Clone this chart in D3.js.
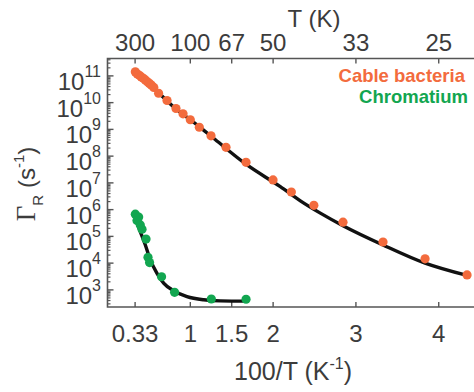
<!DOCTYPE html>
<html>
<head>
<meta charset="utf-8">
<script src="https://cdn.jsdelivr.net/npm/d3@7"></script>
<style>
  body { margin: 0; background: #fff; }
  text { font-family: "Liberation Sans", Arial, sans-serif; fill: #3c3c3c; }
</style>
</head>
<body>
<div id="chart"></div>
<script>
const cableColor = "#f36b3d";
const chromColor = "#12a650";

// x values are 100/T (K^-1), y values are log10 of the rate (s^-1)
const cableInvT = [0.336, 0.360, 0.384, 0.408, 0.432, 0.457, 0.481, 0.505, 0.529, 0.559,
    0.617, 0.719, 0.827, 0.912, 1.000, 1.109, 1.250, 1.431, 1.673, 1.999,
    2.220, 2.492, 2.844, 3.327, 3.835, 4.342];
const cableLogRate = [11.15, 11.07, 11.02, 10.96, 10.91, 10.85, 10.78, 10.72, 10.66, 10.57,
    10.35, 10.08, 9.78, 9.58, 9.36, 9.08, 8.76, 8.33, 7.77, 7.11,
    6.66, 6.16, 5.53, 4.79, 4.16, 3.56];

const chromInvT = [0.336, 0.376, 0.356, 0.396, 0.417, 0.465, 0.489, 0.508, 0.653, 0.810, 1.254, 1.673];
const chromLogRate = [5.83, 5.72, 5.59, 5.43, 5.27, 4.90, 4.22, 4.02, 3.49, 2.91, 2.66, 2.65];

// fitted curves
const cableFitInvT = [0.34, 0.60, 0.80, 1.081, 1.30, 1.685, 2.087, 2.329, 2.570, 2.844, 3.327, 3.835, 4.342];
const cableFitLogRate = [11.12, 10.42, 9.84, 9.17, 8.62, 7.67, 6.86, 6.33, 5.87, 5.40, 4.68, 4.00, 3.54];

const chromFitInvT = [0.348, 0.396, 0.457, 0.517, 0.598, 0.678, 0.798, 0.960, 1.161, 1.362, 1.680];
const chromFitLogRate = [5.59, 5.18, 4.68, 4.12, 3.62, 3.25, 2.97, 2.75, 2.63, 2.59, 2.58];

const xTicks = [1 / 3, 1, 1.5, 2, 3, 4];
const xTickLabels = ["0.33", "1", "1.5", "2", "3", "4"];
const tTickLabels = ["300", "100", "67", "50", "33", "25"];
const yExponents = [3, 4, 5, 6, 7, 8, 9, 10, 11];

const width = 474, height = 392;
const margins = { left: 107.5, right: -2, top: 58.5, bottom: 85 };

const svg = d3.select("#chart").append("svg")
    .attr("width", width)
    .attr("height", height);

const x = d3.scaleLinear().domain([0, 4.45]).range([margins.left, width - margins.right]);
const y = d3.scaleLog().domain([Math.pow(10, 2.36), Math.pow(10, 11.65)])
    .range([height - margins.bottom, margins.top]);

const axisColor = "#555";
const x0 = x.range()[0], x1 = x.range()[1];
const yB = y.range()[0], yT = y.range()[1];

// frame
svg.append("path")
    .attr("d", `M${x1},${yT}H${x0}V${yB}H${x1}`)
    .attr("fill", "none").attr("stroke", axisColor).attr("stroke-width", 1.6);

// x ticks (bottom and top, pointing inwards)
svg.selectAll(".xtickB").data(xTicks).enter().append("line")
    .attr("x1", d => x(d)).attr("x2", d => x(d))
    .attr("y1", yB).attr("y2", yB - 5)
    .attr("stroke", axisColor).attr("stroke-width", 1.4);
svg.selectAll(".xtickT").data(xTicks).enter().append("line")
    .attr("x1", d => x(d)).attr("x2", d => x(d))
    .attr("y1", yT).attr("y2", yT + 5)
    .attr("stroke", axisColor).attr("stroke-width", 1.4);

svg.selectAll(".xlab").data(xTicks).enter().append("text")
    .attr("x", d => x(d)).attr("y", yB + 35)
    .attr("text-anchor", "middle").attr("font-size", "24px")
    .text((d, i) => xTickLabels[i]);
svg.selectAll(".tlab").data(xTicks).enter().append("text")
    .attr("x", d => x(d)).attr("y", yT - 8)
    .attr("text-anchor", "middle").attr("font-size", "24px")
    .text((d, i) => tTickLabels[i]);

// y ticks, major and minor (log)
const minor = [];
yExponents.concat([2]).forEach(e => {
    for (let m = 2; m <= 9; m++) {
        const v = m * Math.pow(10, e);
        if (v > y.domain()[0] && v < y.domain()[1]) minor.push(v);
    }
});
svg.selectAll(".ymin").data(minor).enter().append("line")
    .attr("x1", x0).attr("x2", x0 + 3)
    .attr("y1", d => y(d)).attr("y2", d => y(d))
    .attr("stroke", axisColor).attr("stroke-width", 1.2);
svg.selectAll(".ymaj").data(yExponents).enter().append("line")
    .attr("x1", x0).attr("x2", x0 + 6)
    .attr("y1", d => y(Math.pow(10, d))).attr("y2", d => y(Math.pow(10, d)))
    .attr("stroke", axisColor).attr("stroke-width", 1.4);

const ylab = svg.selectAll(".ylab").data(yExponents).enter().append("text")
    .attr("x", 101).attr("y", d => y(Math.pow(10, d)) + 14)
    .attr("text-anchor", "end").attr("font-size", "24px");
ylab.append("tspan").text("10");
ylab.append("tspan").attr("dy", -13).attr("font-size", "16px").text(d => d);

// axis titles
svg.append("text").attr("x", 314).attr("y", 27)
    .attr("text-anchor", "middle").attr("font-size", "24px").text("T (K)");

const xt = svg.append("text").attr("x", 293).attr("y", 380)
    .attr("text-anchor", "middle").attr("font-size", "25px");
xt.append("tspan").text("100/T (K");
xt.append("tspan").attr("dy", -11).attr("font-size", "16px").text("-1");
xt.append("tspan").attr("dy", 11).text(")");

const yt = svg.append("text")
    .attr("transform", "translate(35,184) rotate(-90)")
    .attr("text-anchor", "middle").attr("font-size", "24px");
yt.append("tspan").attr("font-family", "'Liberation Serif', 'Times New Roman', serif").attr("font-size", "27px").text("Γ");
yt.append("tspan").attr("dy", 8).attr("font-size", "15px").text("R");
yt.append("tspan").attr("dy", -8).text(" (s");
yt.append("tspan").attr("dy", -11).attr("font-size", "15px").text("-1");
yt.append("tspan").attr("dy", 11).text(")");

// fit lines
const line = d3.line()
    .x(d => x(d[0]))
    .y(d => y(Math.pow(10, d[1])))
    .curve(d3.curveMonotoneX);

svg.append("path")
    .datum(cableFitInvT.map((v, i) => [v, cableFitLogRate[i]]))
    .attr("d", line).attr("fill", "none").attr("stroke", "#111").attr("stroke-width", 3.4);
svg.append("path")
    .datum(chromFitInvT.map((v, i) => [v, chromFitLogRate[i]]))
    .attr("d", line).attr("fill", "none").attr("stroke", "#111").attr("stroke-width", 3.4);

// data points
svg.selectAll(".cable").data(cableInvT).enter().append("circle")
    .attr("cx", d => x(d)).attr("cy", (d, i) => y(Math.pow(10, cableLogRate[i])))
    .attr("r", 4.6).attr("fill", cableColor);
svg.selectAll(".chrom").data(chromInvT).enter().append("circle")
    .attr("cx", d => x(d)).attr("cy", (d, i) => y(Math.pow(10, chromLogRate[i])))
    .attr("r", 4.6).attr("fill", chromColor);

// legend
svg.append("text").attr("x", 465).attr("y", 82)
    .attr("text-anchor", "end").attr("font-size", "18.5px").attr("font-weight", "bold")
    .style("fill", cableColor).text("Cable bacteria");
svg.append("text").attr("x", 468).attr("y", 103)
    .attr("text-anchor", "end").attr("font-size", "18.5px").attr("font-weight", "bold")
    .style("fill", chromColor).text("Chromatium");
</script>
</body>
</html>
